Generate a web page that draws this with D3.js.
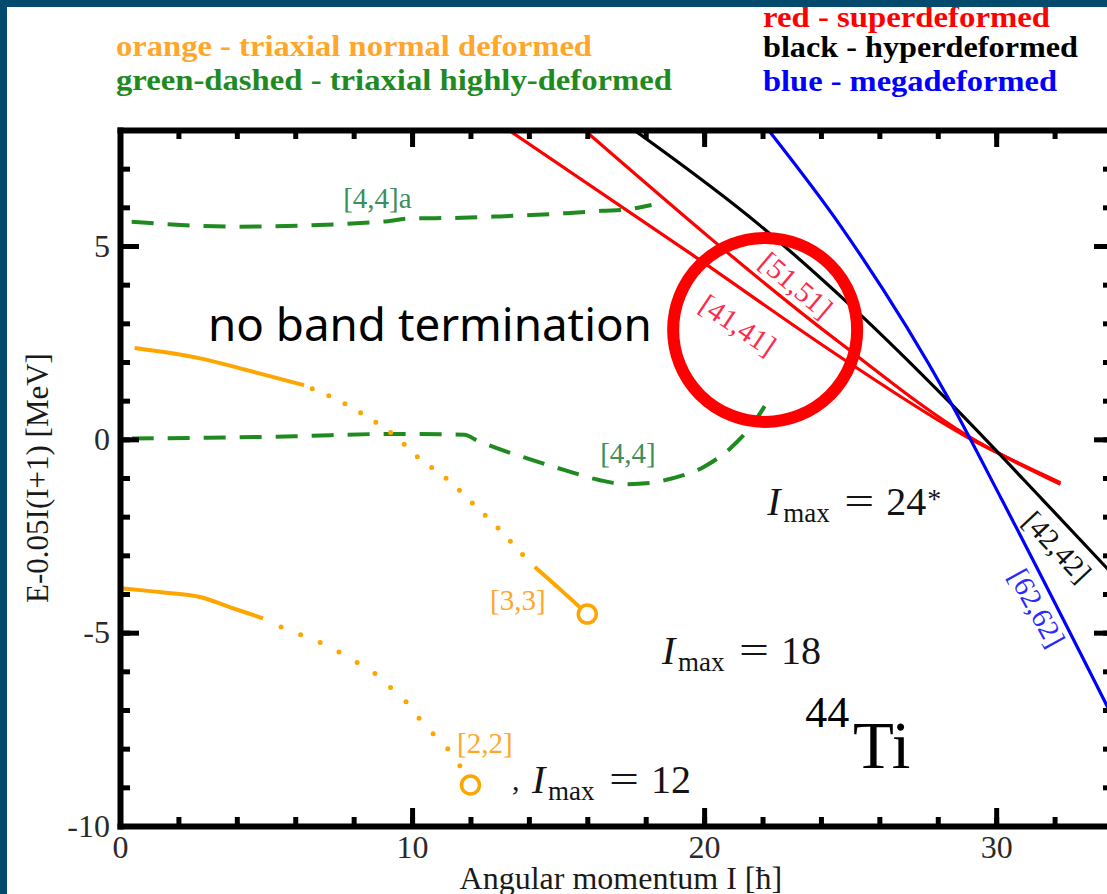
<!DOCTYPE html>
<html>
<head>
<meta charset="utf-8">
<script src="https://cdn.jsdelivr.net/npm/d3@7"></script>
<style>
  html, body { margin: 0; padding: 0; background: #fff; }
  svg { display: block; }
</style>
</head>
<body>
<svg id="chart" width="1107" height="894"></svg>
<script>
// ---- axis ticks ----
const xTickValues = [0, 10, 20, 30];
const yTickValues = [-10, -5, 0, 5];
const xMinorTicks = d3.range(0, 35, 2);
const yMinorTicks = d3.range(-10, 9, 1);

// ---- bands: angular momentum I and E - 0.05 I(I+1) [MeV] ----
// [4,4]a  triaxial highly deformed (upper dashed)
const band44aI = [0.4, 3.9, 9.0, 9.9, 11.7, 12.8, 14.1, 15.3, 16.5, 17.4, 18.2];
const band44aE = [5.63, 5.50, 5.63, 5.71, 5.73, 5.76, 5.80, 5.85, 5.91, 5.95, 6.06];

// [4,4]  triaxial highly deformed (lower dashed)
const band44I = [0.4, 3, 6, 9.25, 11.8, 12.2, 12.9, 14.1, 15.2, 16.4, 17.3, 18.15, 18.8, 19.97, 20.9, 21.64, 22.26];
const band44E = [0.02, 0.04, 0.08, 0.14, 0.12, -0.02, -0.23, -0.53, -0.79, -1.05, -1.16, -1.13, -1.03, -0.72, -0.23, 0.37, 1.09];

// [3,3]  triaxial normal deformed
const band33I = [0.5, 2.7, 4.5, 6.3, 7.8, 8.8, 9.3, 10.2, 11.2, 12.1, 13.0, 13.8, 14.2, 15.1, 16.0];
const band33E = [2.36, 2.10, 1.76, 1.40, 0.88, 0.42, 0.16, -0.46, -1.03, -1.67, -2.34, -2.99, -3.30, -3.90, -4.52];

// [2,2]  triaxial normal deformed
const band22I = [0.0, 1.5, 2.7, 3.8, 4.9, 5.5, 6.2, 6.9, 7.5, 8.1, 8.7, 9.25, 9.8, 10.2, 10.7, 11.2, 11.6, 12.0];
const band22E = [-3.85, -3.96, -4.07, -4.35, -4.63, -4.85, -5.06, -5.27, -5.50, -5.76, -6.04, -6.41, -6.79, -7.18, -7.60, -7.98, -8.40, -8.94];

// [41,41] and [51,51]  superdeformed
const band4141I = [13.3, 19.6, 24.66, 29.0, 32.2];
const band4141E = [8.0, 4.77, 2.13, 0.06, -1.12];
const band5151I = [15.9, 24.66, 29.0, 32.2];
const band5151E = [8.0, 2.49, 0.10, -1.16];

// [42,42]  hyperdeformed
const band4242I = [17.6, 21.9, 25.0, 28.4, 31.6, 34];
const band4242E = [8.0, 5.54, 3.47, 0.96, -1.57, -3.5];

// [62,62]  megadeformed
const band6262I = [22.2, 24.7, 28.4, 30.2, 34];
const band6262E = [8.0, 5.49, 1.01, -1.57, -7.2];

// ---- layout ----
const svg = d3.select('#chart');
const W = 1107, H = 894;
const x = d3.scaleLinear().domain([0, 34]).range([120, 1113]);
const y = d3.scaleLinear().domain([-10, 8]).range([826, 130]);
const SERIF = "'Liberation Serif', 'Times New Roman', serif";

const COL = {
  orange: '#ffa500', orangeText: '#ffa62b',
  green: '#1f8a1f', greenText: '#3a8f5c',
  red: '#ff0000', redText: '#ff2a4a',
  black: '#000000', blue: '#0000ff', blueText: '#2a2aff',
  frame: '#034a6c'
};

svg.append('rect').attr('width', W).attr('height', H).attr('fill', '#fff');

svg.append('clipPath').attr('id', 'plotClip')
  .append('rect')
  .attr('x', x(0)).attr('y', y(8))
  .attr('width', x(34) - x(0)).attr('height', y(-10) - y(8));

const toPts = (I, E) => I.map((d, i) => ({ I: d, E: E[i] }));
const line = d3.line().x(d => x(d.I)).y(d => y(d.E)).curve(d3.curveMonotoneX);
const plot = svg.append('g').attr('clip-path', 'url(#plotClip)');

function segment(pts, a, b) {
  return pts.filter(p => p.I >= a - 1e-9 && p.I <= b + 1e-9);
}

// dashed triaxial highly-deformed bands
[[band44aI, band44aE], [band44I, band44E]].forEach(([I, E]) => {
  plot.append('path').datum(toPts(I, E)).attr('d', line)
    .attr('fill', 'none').attr('stroke', COL.green).attr('stroke-width', 4)
    .attr('stroke-dasharray', '22 14');
});

// triaxial normal-deformed bands: solid / dotted pieces, open circle at termination
function normalBand(I, E, solid, dotted, period, offset) {
  const pts = toPts(I, E);
  solid.forEach(([a, b]) => {
    plot.append('path').datum(segment(pts, a, b)).attr('d', line)
      .attr('fill', 'none').attr('stroke', COL.orange).attr('stroke-width', 4);
  });
  dotted.forEach(([a, b]) => {
    plot.append('path').datum(segment(pts, a, b)).attr('d', line)
      .attr('fill', 'none').attr('stroke', COL.orange).attr('stroke-width', 5)
      .attr('stroke-linecap', 'round')
      .attr('stroke-dasharray', `0 ${period}`)
      .attr('stroke-dashoffset', offset);
  });
  const end = pts[pts.length - 1];
  plot.append('circle').attr('cx', x(end.I)).attr('cy', y(end.E)).attr('r', 9)
    .attr('fill', '#fff').attr('stroke', COL.orange).attr('stroke-width', 3.5);
}
normalBand(band33I, band33E, [[0.5, 6.3], [14.2, 16.0]], [[6.3, 14.2]], 18, 9);
normalBand(band22I, band22E, [[0.0, 4.9]], [[4.9, 12.0]], 21, 1);

// superdeformed, hyperdeformed, megadeformed bands
[
  [band4141I, band4141E, COL.red],
  [band5151I, band5151E, COL.red],
  [band4242I, band4242E, COL.black],
  [band6262I, band6262E, COL.blue]
].forEach(([I, E, c]) => {
  plot.append('path').datum(toPts(I, E)).attr('d', line)
    .attr('fill', 'none').attr('stroke', c).attr('stroke-width', 3.2);
});

// ---- band labels ----
const flatLabels = [
  { text: '[4,4]a', I: 7.64, E: 5.98, color: COL.greenText },
  { text: '[4,4]', I: 16.44, E: -0.60, color: COL.greenText },
  { text: '[3,3]', I: 12.67, E: -4.41, color: COL.orangeText },
  { text: '[2,2]', I: 11.54, E: -8.12, color: COL.orangeText }
];
flatLabels.forEach(l => {
  svg.append('text').attr('x', x(l.I)).attr('y', y(l.E))
    .attr('font-family', SERIF).attr('font-size', 29).attr('fill', l.color)
    .text(l.text);
});

const slantLabels = [
  { text: '[41,41]', I: 21.16, E: 2.96, angle: 34, color: COL.redText },
  { text: '[51,51]', I: 23.15, E: 3.99, angle: 40, color: COL.redText },
  { text: '[42,42]', I: 32.09, E: -2.78, angle: 47, color: '#111' },
  { text: '[62,62]', I: 31.40, E: -4.36, angle: 61, color: COL.blueText }
];
slantLabels.forEach(l => {
  svg.append('text')
    .attr('transform', `translate(${x(l.I)},${y(l.E)}) rotate(${l.angle})`)
    .attr('text-anchor', 'middle').attr('dominant-baseline', 'central')
    .attr('font-family', SERIF).attr('font-size', 29).attr('fill', l.color)
    .text(l.text);
});

// ---- I_max annotations ----
const imaxNotes = [
  { I: 22.16, E: -1.96, value: '24', star: true },
  { I: 18.56, E: -5.81, value: '18', star: false },
  { I: 14.11, E: -9.15, value: '12', star: false, comma: true }
];
imaxNotes.forEach(n => {
  const g = svg.append('g').attr('font-family', SERIF).attr('fill', '#141414');
  const ax = x(n.I), ay = y(n.E);
  if (n.comma) g.append('text').attr('x', ax - 20).attr('y', ay - 3).attr('font-size', 30).text(',');
  g.append('text').attr('x', ax).attr('y', ay).attr('font-size', 40).attr('font-style', 'italic').text('I');
  g.append('text').attr('x', ax + 16).attr('y', ay + 7).attr('font-size', 27).text('max');
  g.append('text').attr('x', ax + 77).attr('y', ay).attr('font-size', 40)
    .attr('textLength', 30).attr('lengthAdjust', 'spacingAndGlyphs').text('=');
  g.append('text').attr('x', ax + 119).attr('y', ay).attr('font-size', 40).text(n.value);
  if (n.star) g.append('text').attr('x', ax + 160).attr('y', ay - 7).attr('font-size', 28).text('*');
});

// nucleus
svg.append('text').attr('x', x(23.46)).attr('y', y(-7.44))
  .attr('font-family', SERIF).attr('font-size', 44).attr('fill', '#000').text('44');
svg.append('text').attr('x', x(25.1)).attr('y', y(-8.5))
  .attr('font-family', SERIF).attr('font-size', 67).attr('fill', '#000').text('Ti');

// annotation: crossing region
svg.append('text').attr('x', x(3.01)).attr('y', y(2.54))
  .attr('font-family', "'Comic Sans MS', 'Noto Sans', sans-serif").attr('font-size', 46)
  .attr('textLength', 444).attr('lengthAdjust', 'spacingAndGlyphs')
  .attr('fill', '#000').text('no band termination');
svg.append('circle').attr('cx', x(22.09)).attr('cy', y(2.83)).attr('r', 92)
  .attr('fill', 'none').attr('stroke', COL.red).attr('stroke-width', 12);

// ---- axes (ticks on all four sides, pointing inward) ----
function styleAxis(g, withLabels) {
  g.selectAll('.domain').attr('stroke', '#000').attr('stroke-width', 6).attr('stroke-linecap', 'square');
  g.selectAll('.tick line').attr('stroke', '#000').attr('stroke-width', 5);
  g.selectAll('.tick text').attr('font-family', SERIF).attr('font-size', 32).attr('fill', '#2a2a2a');
  if (!withLabels) g.selectAll('.tick text').remove();
}
const fmt = d => String(d);

// minor ticks
svg.append('g').attr('transform', `translate(0,${y(-10)})`)
  .call(d3.axisBottom(x).tickValues(xMinorTicks).tickSize(-9).tickFormat(''))
  .call(g => { styleAxis(g, false); g.select('.domain').remove(); });
svg.append('g').attr('transform', `translate(0,${y(8)})`)
  .call(d3.axisTop(x).tickValues(xMinorTicks).tickSize(-9).tickFormat(''))
  .call(g => { styleAxis(g, false); g.select('.domain').remove(); });
svg.append('g').attr('transform', `translate(${x(0)},0)`)
  .call(d3.axisLeft(y).tickValues(yMinorTicks).tickSize(-10).tickFormat(''))
  .call(g => { styleAxis(g, false); g.select('.domain').remove(); });
svg.append('g').attr('transform', `translate(${x(34)},0)`)
  .call(d3.axisRight(y).tickValues(yMinorTicks).tickSize(-10).tickFormat(''))
  .call(g => { styleAxis(g, false); g.select('.domain').remove(); });

// major ticks + frame
svg.append('g').attr('transform', `translate(0,${y(-10)})`)
  .call(d3.axisBottom(x).tickValues(xTickValues).tickSizeInner(-18).tickSizeOuter(0).tickPadding(9).tickFormat(fmt))
  .call(g => styleAxis(g, true));
svg.append('g').attr('transform', `translate(0,${y(8)})`)
  .call(d3.axisTop(x).tickValues(xTickValues).tickSizeInner(-17).tickSizeOuter(0).tickFormat(''))
  .call(g => styleAxis(g, false));
svg.append('g').attr('transform', `translate(${x(0)},0)`)
  .call(d3.axisLeft(y).tickValues(yTickValues).tickSizeInner(-19).tickSizeOuter(0).tickPadding(10).tickFormat(fmt))
  .call(g => styleAxis(g, true));
svg.append('g').attr('transform', `translate(${x(34)},0)`)
  .call(d3.axisRight(y).tickValues(yTickValues).tickSizeInner(-19).tickSizeOuter(0).tickFormat(''))
  .call(g => styleAxis(g, false));

// axis titles
svg.append('text').attr('x', x(17.15)).attr('y', 889)
  .attr('text-anchor', 'middle').attr('font-family', SERIF).attr('font-size', 32).attr('fill', '#1a1a1a')
  .text('Angular momentum I [ħ]');
svg.append('text').attr('transform', `translate(48,${(y(-10) + y(8)) / 2}) rotate(-90)`)
  .attr('text-anchor', 'middle').attr('font-family', SERIF).attr('font-size', 31).attr('fill', '#1a1a1a')
  .text('E-0.05I(I+1) [MeV]');

// ---- colour legend ----
const legendItems = [
  { text: 'orange - triaxial normal deformed', color: COL.orangeText, x0: 116, base: 56, len: 476 },
  { text: 'green-dashed - triaxial highly-deformed', color: COL.green, x0: 116, base: 90, len: 556 },
  { text: 'red - superdeformed', color: COL.red, x0: 763, base: 27, len: 287 },
  { text: 'black - hyperdeformed', color: '#000', x0: 763, base: 57, len: 315 },
  { text: 'blue - megadeformed', color: COL.blue, x0: 763, base: 91, len: 294 }
];
legendItems.forEach(l => {
  svg.append('text').attr('x', l.x0).attr('y', l.base)
    .attr('font-family', SERIF).attr('font-weight', 'bold').attr('font-size', 30)
    .attr('textLength', l.len).attr('lengthAdjust', 'spacingAndGlyphs')
    .attr('fill', l.color).text(l.text);
});

// page frame
svg.append('rect').attr('x', 0).attr('y', 0).attr('width', W).attr('height', 7).attr('fill', COL.frame);
svg.append('rect').attr('x', 0).attr('y', 0).attr('width', 7).attr('height', H).attr('fill', COL.frame);
</script>
</body>
</html>
